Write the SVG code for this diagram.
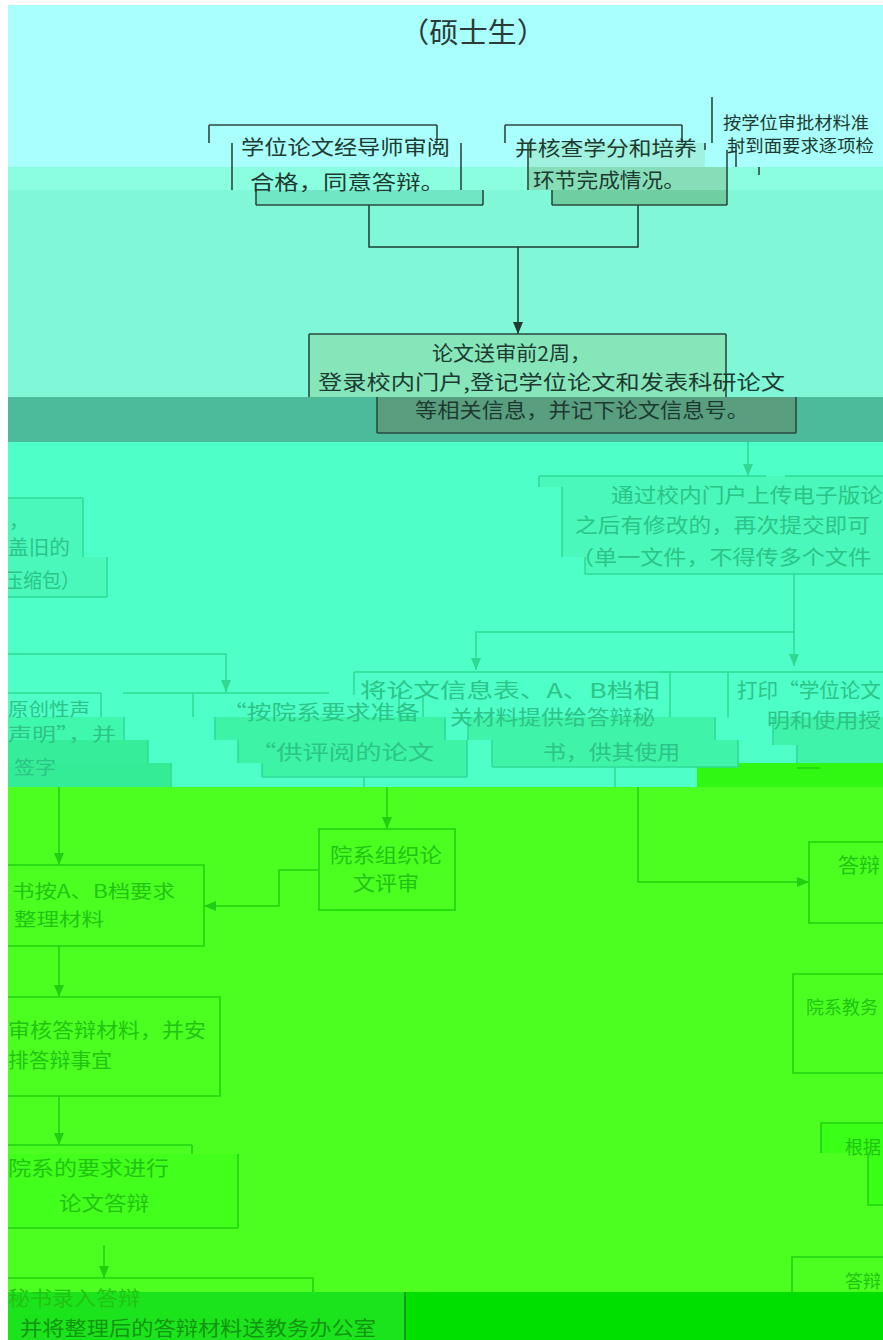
<svg xmlns="http://www.w3.org/2000/svg" width="883" height="1340" viewBox="0 0 883 1340">
<style>
text{font-family:"Noto Sans CJK SC","Noto Sans",sans-serif;font-size:20px}
.t0{fill:#2a3a36;font-size:28px}
.t1{fill:#1d3a30}
.ts{font-size:17px}
.tm{font-size:18px}
.t2{fill:#2cc487}
.t3{fill:#21c511}
.t4{fill:#129612}
.e1{fill:none;stroke:#2c4a40;stroke-width:1.6}
.e2{fill:none;stroke:#2fdc96;stroke-width:1.6}
.e3{fill:none;stroke:#1fd40f;stroke-width:1.6}
.c1{fill:none;stroke:#1f3a31;stroke-width:1.5}
.c2{fill:none;stroke:#2fd994;stroke-width:1.5}
.c3{fill:none;stroke:#20cf10;stroke-width:1.5}
</style>
<defs>
<marker id="a1" viewBox="0 0 12 10" refX="12" refY="5" markerWidth="12" markerHeight="10" markerUnits="userSpaceOnUse" orient="auto"><path d="M0,0L12,5L0,10Z" fill="#1f3a31"/></marker>
<marker id="a2" viewBox="0 0 12 10" refX="12" refY="5" markerWidth="12" markerHeight="10" markerUnits="userSpaceOnUse" orient="auto"><path d="M0,0L12,5L0,10Z" fill="#2fd994"/></marker>
<marker id="a3" viewBox="0 0 12 10" refX="12" refY="5" markerWidth="12" markerHeight="10" markerUnits="userSpaceOnUse" orient="auto"><path d="M0,0L12,5L0,10Z" fill="#20cf10"/></marker>
</defs>

<g id="background">
<rect x="0" y="0" width="883" height="167" fill="#a9fffc"/>
<rect x="0" y="167" width="883" height="23" fill="#8cfee0"/>
<rect x="0" y="190" width="883" height="207" fill="#80f8d8"/>
<rect x="0" y="397" width="883" height="45" fill="#4cbb9c"/>
<rect x="0" y="442" width="883" height="345" fill="#4effc7"/>
<rect x="697" y="763" width="186" height="24" fill="#30f812"/>
<rect x="0" y="787" width="883" height="505" fill="#4cff21"/>
<rect x="0" y="1292" width="883" height="48" fill="#00e000"/>
</g>

<g id="connectors">
<path class="c1" d="M369 205V247H638V205"/>
<path class="c1" d="M518 247V334" marker-end="url(#a1)"/>
<path class="c2" d="M748 442V476" marker-end="url(#a2)"/>
<path class="c2" d="M794 574V666" marker-end="url(#a2)"/>
<path class="c2" d="M794 632H476V670" marker-end="url(#a2)"/>
<path class="c2" d="M0 654H226V692" marker-end="url(#a2)"/>
<path class="c2" d="M364 777V787"/>
<path class="c2" d="M615 767V787"/>
<path class="c3" d="M387 787V829" marker-end="url(#a3)"/>
<path class="c3" d="M638 787V882H809" marker-end="url(#a3)"/>
<path class="c3" d="M319 870H279V906H204" marker-end="url(#a3)"/>
<path class="c3" d="M59 787V865" marker-end="url(#a3)"/>
<path class="c3" d="M59 946V997" marker-end="url(#a3)"/>
<path class="c3" d="M59 1096V1145" marker-end="url(#a3)"/>
<path class="c3" d="M104 1245V1278" marker-end="url(#a3)"/>
</g>

<g id="title">
<text class="t0" x="400" y="43" textLength="146" lengthAdjust="spacingAndGlyphs">（硕士生）</text>
</g>

<g id="n1">
<rect x="256" y="190" width="227" height="15" fill="#70e6c4"/>
<path class="e1" d="M209 125H437M209 125V143M437 125V143M232 143V190M461 143V190M256 190V205M483 190V205M256 205H483"/>
<text class="t1" x="241" y="155" textLength="209" lengthAdjust="spacingAndGlyphs">学位论文经导师审阅</text>
<text class="t1" x="250" y="190" textLength="195" lengthAdjust="spacingAndGlyphs">合格，同意答辩。</text>
</g>

<g id="n2">
<rect x="528" y="143" width="177" height="24" fill="#a0f2df"/>
<rect x="528" y="167" width="199" height="23" fill="#86deb8"/>
<rect x="552" y="190" width="175" height="15" fill="#6fcfa2"/>
<path class="e1" d="M505 125H682M505 125V143M682 125V143M528 143V190M705 143V150M727 150V205M552 190V205M552 205H727"/>
<text class="t1" x="515" y="156" textLength="182" lengthAdjust="spacingAndGlyphs">并核查学分和培养</text>
<text class="t1" x="533" y="188" textLength="152" lengthAdjust="spacingAndGlyphs">环节完成情况。</text>
</g>

<g id="n3">
<path class="e1" d="M712 97V143M736 143V167M759 167V175"/>
<text class="t1 ts" x="723" y="129" textLength="146" lengthAdjust="spacingAndGlyphs">按学位审批材料准</text>
<text class="t1 ts" x="727" y="152" textLength="147" lengthAdjust="spacingAndGlyphs">封到面要求逐项检</text>
</g>

<g id="n4">
<rect x="309" y="334" width="417" height="63" fill="#86e6ba"/>
<rect x="377" y="397" width="419" height="36" fill="#5a9e80"/>
<path class="e1" d="M309 334H726M309 334V397M726 334V397M377 397V433M796 397V433M377 433H796"/>
<text class="t1" x="432" y="361" textLength="159" lengthAdjust="spacingAndGlyphs">论文送审前2周，</text>
<text class="t1" x="318" y="390" textLength="467" lengthAdjust="spacingAndGlyphs">登录校内门户,登记学位论文和发表科研论文</text>
<text class="t1" x="415" y="418" textLength="334" lengthAdjust="spacingAndGlyphs">等相关信息，并记下论文信息号。</text>
</g>

<g id="n5">
<path d="M539 476H900V574H585V557H562V487H539Z" fill="#4af8bc"/>
<path class="e2" d="M539 476H766M785 476H883M539 476V487M562 487V557M585 557V574M585 574H883"/>
<text class="t2" x="611" y="503" textLength="272" lengthAdjust="spacingAndGlyphs">通过校内门户上传电子版论</text>
<text class="t2" x="575" y="533" textLength="295" lengthAdjust="spacingAndGlyphs">之后有修改的，再次提交即可</text>
<text class="t2" x="571" y="565" textLength="300" lengthAdjust="spacingAndGlyphs">（单一文件，不得传多个文件</text>
</g>

<g id="n5b">
<path d="M-2 498H83V557H107V597H-2Z" fill="#4af8bc"/>
<path class="e2" d="M-2 498H83M83 498V557M107 557V597M-2 597H107"/>
<text class="t2" x="9" y="528">，</text>
<text class="t2" x="8" y="555" textLength="62" lengthAdjust="spacingAndGlyphs">盖旧的</text>
<text class="t2" x="4" y="588" textLength="76" lengthAdjust="spacingAndGlyphs">压缩包）</text>
</g>

<g id="n6">
<rect x="-2" y="717" width="126" height="23" fill="#40f7ae"/>
<rect x="-2" y="740" width="150" height="23" fill="#36ee99"/>
<rect x="-2" y="763" width="173" height="24" fill="#33ec95"/>
<path class="e2" d="M-2 693H101M101 693V717M124 717V740M148 740V763M171 763V787"/>
<text class="t2 tm" x="8" y="716" textLength="82" lengthAdjust="spacingAndGlyphs">原创性声</text>
<text class="t2 tm" x="8" y="741" textLength="108" lengthAdjust="spacingAndGlyphs">声明”，并</text>
<text class="t2 tm" x="14" y="774" textLength="42" lengthAdjust="spacingAndGlyphs">签字</text>
</g>

<g id="n7">
<path d="M215 717H445V740H467V777H262V763H238V740H215Z" fill="#3cf3a6"/>
<path class="e2" d="M123 693H329M193 693V717M215 717V740M238 740V763M262 763V777M399 693V717M445 717V740M467 740V777M262 777H467"/>
<text class="t2" x="222" y="720" textLength="198" lengthAdjust="spacingAndGlyphs">“按院系要求准备</text>
<text class="t2" x="250" y="760" textLength="184" lengthAdjust="spacingAndGlyphs">“供评阅的论文</text>
</g>

<g id="n8">
<path d="M468 717H715V740H738V767H492V740H468Z" fill="#3ff3a8"/>
<path class="e2" d="M354 672H670M354 672V695M423 695V717M468 717V740M492 740V767M670 672V717M715 717V740M738 740V767M492 767H738"/>
<text class="t2" x="360" y="698" textLength="300" lengthAdjust="spacingAndGlyphs">将论文信息表、A、B档相</text>
<text class="t2" x="450" y="725" textLength="205" lengthAdjust="spacingAndGlyphs">关材料提供给答辩秘</text>
<text class="t2" x="543" y="760" textLength="137" lengthAdjust="spacingAndGlyphs">书，供其使用</text>
</g>

<g id="n9">
<path d="M773 717H900V763H797V745H773Z" fill="#40f3aa"/>
<path class="e2" d="M660 672H883M728 672V717M773 717V745M797 745V763"/>
<path class="e3" d="M797 768H820"/>
<text class="t2" x="737" y="698" textLength="144" lengthAdjust="spacingAndGlyphs">打印“学位论文</text>
<text class="t2" x="767" y="728" textLength="114" lengthAdjust="spacingAndGlyphs">明和使用授</text>
</g>

<g id="n10">
<rect class="e3" x="319" y="829" width="136" height="81"/>
<text class="t3" x="330" y="863" textLength="112" lengthAdjust="spacingAndGlyphs">院系组织论</text>
<text class="t3" x="353" y="891" textLength="66" lengthAdjust="spacingAndGlyphs">文评审</text>
</g>

<g id="n11">
<path class="e3" d="M-2 865H204V946H-2"/>
<text class="t3 tm" x="12" y="898" textLength="163" lengthAdjust="spacingAndGlyphs">书按A、B档要求</text>
<text class="t3 tm" x="14" y="926" textLength="90" lengthAdjust="spacingAndGlyphs">整理材料</text>
</g>

<g id="n12">
<path class="e3" d="M-2 997H220V1096H-2"/>
<text class="t3" x="8" y="1038" textLength="198" lengthAdjust="spacingAndGlyphs">审核答辩材料，并安</text>
<text class="t3" x="8" y="1068" textLength="104" lengthAdjust="spacingAndGlyphs">排答辩事宜</text>
</g>

<g id="n13">
<rect x="-2" y="1154" width="240" height="74" fill="#42ff1c"/>
<path class="e3" d="M-2 1145H192M192 1145V1154M238 1154V1228M-2 1228H238"/>
<text class="t3" x="8" y="1176" textLength="161" lengthAdjust="spacingAndGlyphs">院系的要求进行</text>
<text class="t3" x="59" y="1211" textLength="90" lengthAdjust="spacingAndGlyphs">论文答辩</text>
</g>

<g id="n14">
<rect x="-2" y="1292" width="407" height="48" fill="#1ce41c"/>
<path class="e3" d="M-2 1278H313M313 1278V1292"/>
<path d="M405 1292V1340" fill="none" stroke="#0f8f0f" stroke-width="1.6"/>
<text class="t3" x="8" y="1306" textLength="132" lengthAdjust="spacingAndGlyphs">秘书录入答辩</text>
<text class="t4" x="20" y="1336" textLength="356" lengthAdjust="spacingAndGlyphs">并将整理后的答辩材料送教务办公室</text>
</g>

<g id="n15">
<path class="e3" d="M900 842H809V923H900"/>
<text class="t3" x="838" y="873" textLength="42" lengthAdjust="spacingAndGlyphs">答辩</text>
</g>

<g id="n16">
<path class="e3" d="M900 974H793V1073H900"/>
<text class="t3 tm" x="806" y="1014">院系教务</text>
</g>

<g id="n17">
<path d="M821 1123H900V1205H868V1153H821Z" fill="#3aff16"/>
<path class="e3" d="M900 1123H821V1153M868 1153V1205H900"/>
<text class="t3 tm" x="845" y="1154">根据</text>
</g>

<g id="n18">
<path class="e3" d="M792 1292V1257H900"/>
<text class="t3 tm" x="845" y="1288">答辩</text>
</g>

<g id="edges-mask">
<rect x="0" y="0" width="8" height="1340" fill="#ffffff"/>
<rect x="0" y="0" width="883" height="5" fill="#ffffff"/>
</g>
</svg>
